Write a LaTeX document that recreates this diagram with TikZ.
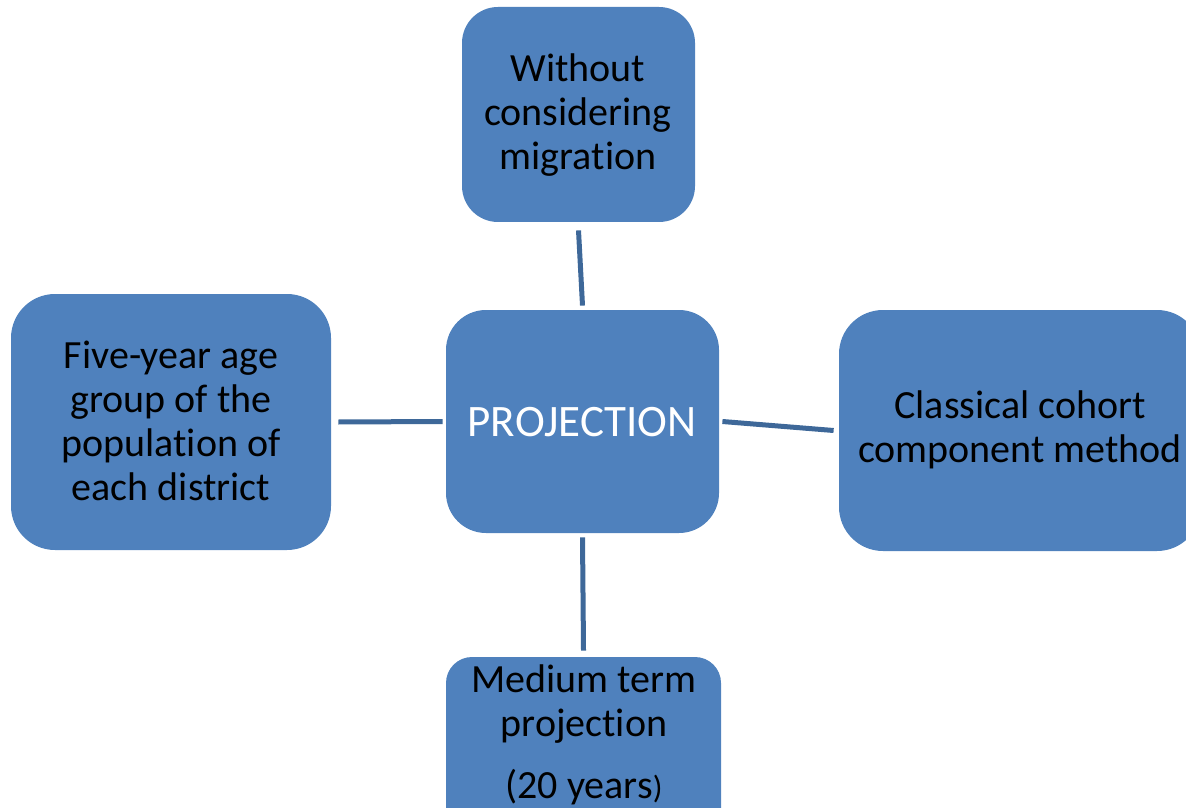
\documentclass[tikz,border=0pt]{standalone}
\usepackage{fontspec}
\setmainfont{Carlito}[RawFeature=-liga]
\definecolor{boxblue}{HTML}{4F81BD}
\definecolor{linkblue}{HTML}{3E6899}
\tikzset{
  blbox/.style={fill=boxblue, draw=none, rounded corners=#1, inner sep=0pt},
  blbox/.default=18pt,
  lbl/.style={font=\fontsize{20}{22}\selectfont, align=center, text=black, inner sep=0pt},
  conn/.style={draw=linkblue, line width=2.5pt}
}
\begin{document}
\begin{tikzpicture}[x=0.5pt,y=-0.5pt]
\useasboundingbox (0,0) rectangle (1186,807);
\clip (0,0) rectangle (1186,807);
% boxes
\node[blbox, minimum width=116.5pt, minimum height=107.5pt] (top) at (578.5,114.5) {};
\node[blbox=20pt, minimum width=136.5pt, minimum height=111.5pt] (ctr) at (582.5,421.5) {};
\node[blbox=22pt, minimum width=160pt, minimum height=128pt] (left) at (171,422) {};
\node[blbox=22pt, minimum width=181pt, minimum height=120.5pt] (right) at (1020,430.5) {};
\node[blbox=13pt, minimum width=137.5pt, minimum height=120pt] (bot) at (583.5,777) {};
% texts
\node[lbl] (toptxt) at (578,115) {Without\\considering\\migration};
\node[lbl, text=white, font=\fontsize{22.5}{26}\selectfont] (ctrtxt) at (582,422) {PROJECTION};
\node[lbl] (lefttxt) at (171,421) {Five-year age\\group of the\\population of\\each district};
\node[lbl] (righttxt) at (1020,430) {Classical cohort\\component method};
\node[lbl, anchor=north] (bottxt) at (584,664) {Medium term\\projection\\[9pt](20 years{\fontsize{16}{18}\selectfont)}};
% connectors
\draw[conn] ([yshift=-4pt]top.south) -- ([yshift=2pt]ctr.north);
\draw[conn] ([xshift=3.5pt]left.east) -- ([xshift=-1.5pt]ctr.west);
\draw[conn] ([xshift=1.5pt]ctr.east) -- ([xshift=-2.5pt]right.west);
\draw[conn] ([yshift=-2pt]ctr.south) -- ([yshift=3pt]bot.north);
\end{tikzpicture}
\end{document}
